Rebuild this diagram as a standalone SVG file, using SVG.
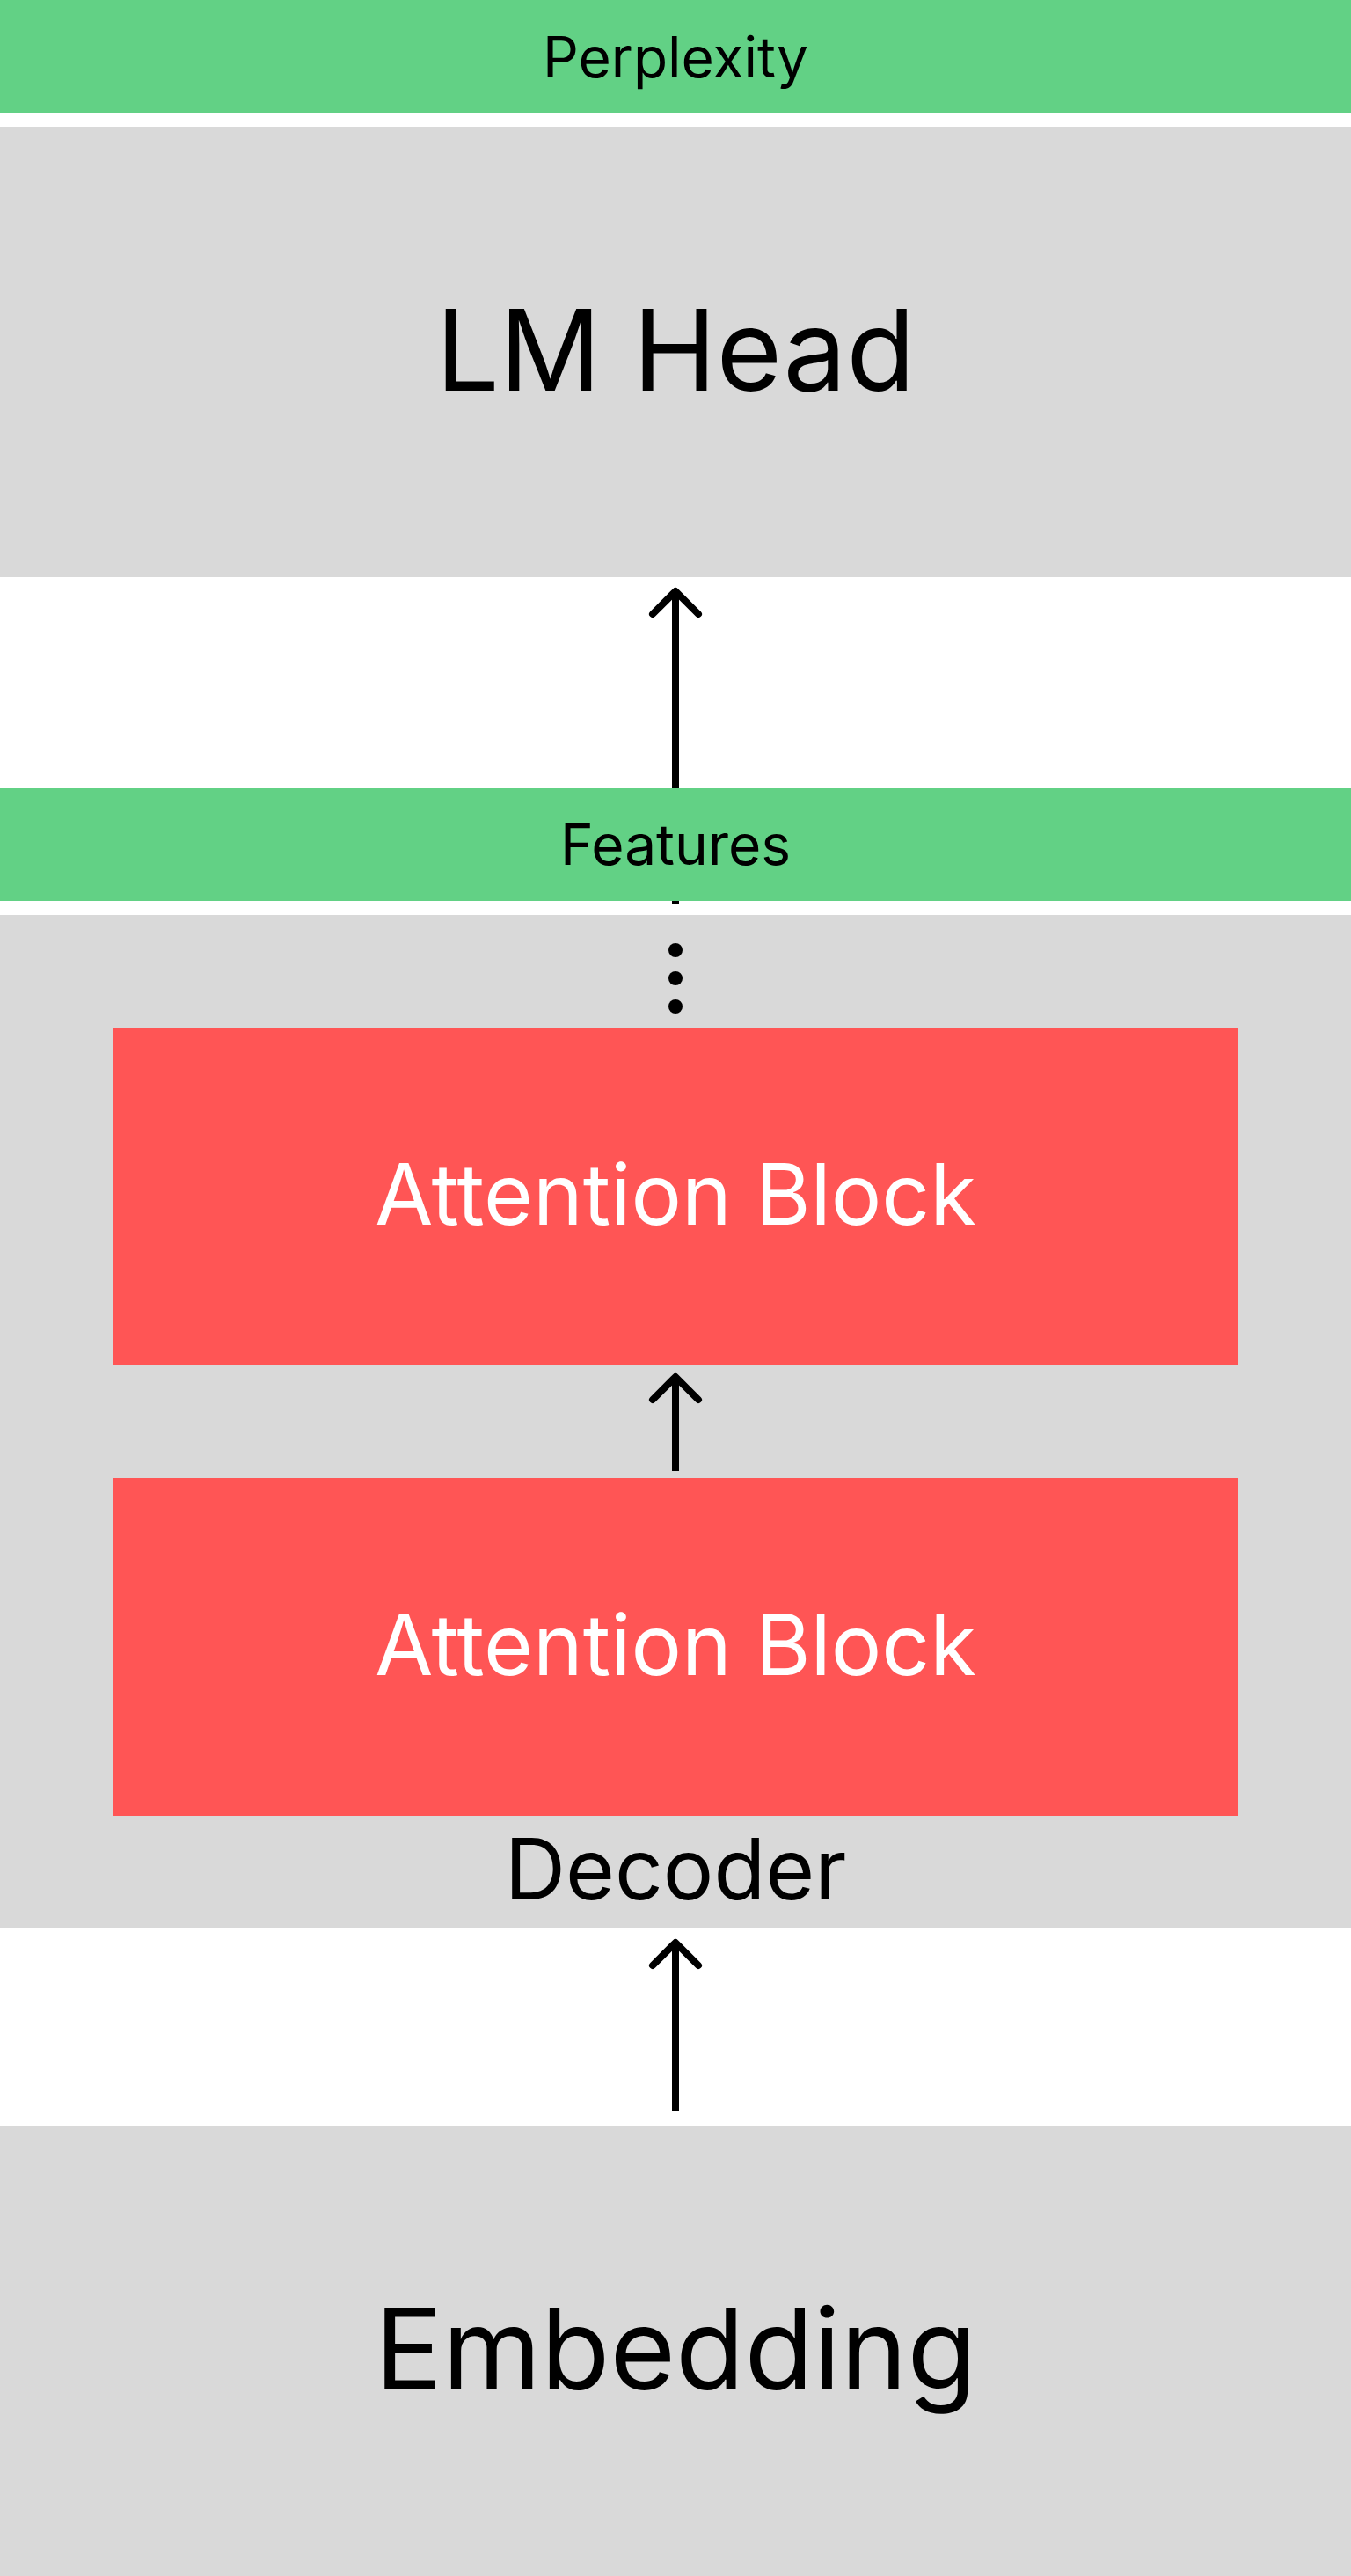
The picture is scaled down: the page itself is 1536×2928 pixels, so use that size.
<svg xmlns="http://www.w3.org/2000/svg" width="1536" height="2928" viewBox="0 0 1536 2928">
  <style>
    .gray { fill: #D9D9D9; }
    .green { fill: #62D185; }
    .red { fill: #FF5555; }
    .label { font-family: Inter, "Noto Sans", "Liberation Sans", sans-serif; text-anchor: middle; fill: #000; }
    .small { font-size: 64px; }
    .mid { font-size: 96px; }
    .big { font-size: 128px; }
    .white { fill: #FFFFFF; }
    .wire { stroke: #000; stroke-width: 8; fill: none; marker-end: url(#head); }
  </style>
  <defs>
    <marker id="head" markerUnits="userSpaceOnUse" orient="auto" overflow="visible" markerWidth="1" markerHeight="1" refX="0" refY="0">
      <path d="M-26,-26 L0,0 L-26,26" fill="none" stroke="#000" stroke-width="8" stroke-linecap="round" stroke-linejoin="round"/>
    </marker>
  </defs>
  <rect width="1536" height="2928" fill="#FFFFFF"/>

  <g id="perplexity">
    <rect class="green" x="0" y="0" width="1536" height="128"/>
    <text class="label small" x="768" y="88">Perplexity</text>
  </g>

  <g id="lm-head">
    <rect class="gray" x="0" y="144" width="1536" height="512"/>
    <text class="label big" x="768" y="444">LM Head</text>
  </g>

  <g id="decoder">
    <rect class="gray" x="0" y="1040" width="1536" height="1152"/>
    <circle cx="768" cy="1080" r="8" fill="#000"/>
    <circle cx="768" cy="1112" r="8" fill="#000"/>
    <circle cx="768" cy="1144" r="8" fill="#000"/>
    <text class="label mid" x="768" y="2159">Decoder</text>
  </g>

  <g id="attention-block-top">
    <rect class="red" x="128" y="1168" width="1280" height="384"/>
    <text class="label mid white" x="768" y="1392">Attention Block</text>
  </g>

  <g id="attention-block-bottom">
    <rect class="red" x="128" y="1680" width="1280" height="384"/>
    <text class="label mid white" x="768" y="1904">Attention Block</text>
  </g>

  <g id="embedding">
    <rect class="gray" x="0" y="2416" width="1536" height="512"/>
    <text class="label big" x="768" y="2716">Embedding</text>
  </g>

  <!-- upward arrows; the top one starts under the Features band -->
  <g id="connectors">
    <line class="wire" x1="768" y1="1028" x2="768" y2="672"/>
    <line class="wire" x1="768" y1="1672" x2="768" y2="1565"/>
    <line class="wire" x1="768" y1="2400" x2="768" y2="2208"/>
  </g>

  <g id="features">
    <rect class="green" x="0" y="896" width="1536" height="128"/>
    <text class="label small" x="768" y="983">Features</text>
  </g>
</svg>
